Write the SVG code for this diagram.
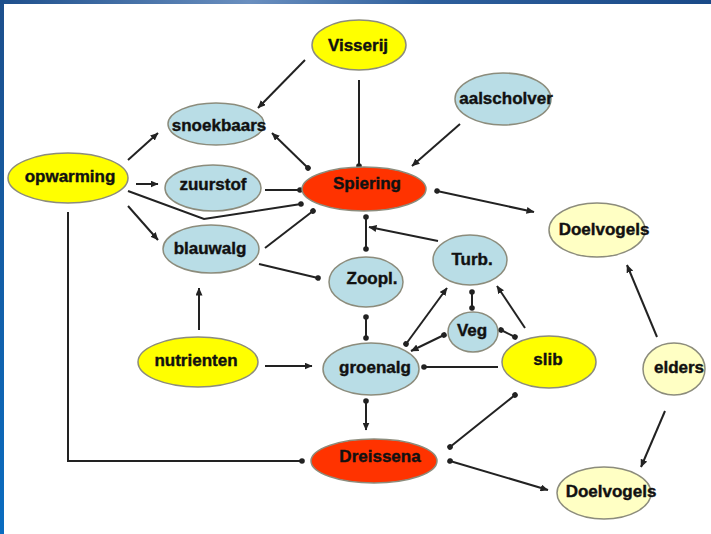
<svg xmlns="http://www.w3.org/2000/svg" width="711" height="534" viewBox="0 0 711 534">
<style>
.n ellipse{stroke:#8c8c7c;stroke-width:1.5}
.y{fill:#ffff00}
.b{fill:#b9dde6}
.r{fill:#ff3300}
.p{fill:#ffffc4}
text{font-family:"Liberation Sans",Arial,sans-serif;font-weight:bold;font-size:17px;fill:#111;stroke:#111;stroke-width:0.4;text-anchor:middle}
#connectors path{fill:none;stroke:#222;stroke-width:2}
</style>
<defs>
<linearGradient id="gt" x1="0" y1="0" x2="1" y2="0">
<stop offset="0" stop-color="#1d4f8c"/>
<stop offset="0.35" stop-color="#6a8fbf"/>
<stop offset="0.6" stop-color="#2e5f9c"/>
<stop offset="1" stop-color="#1a4a88"/>
</linearGradient>
<linearGradient id="gl" x1="0" y1="0" x2="0" y2="1">
<stop offset="0" stop-color="#1d4f8c"/>
<stop offset="1" stop-color="#0a6cc0"/>
</linearGradient>
<marker id="a" viewBox="0 0 8 7" refX="7.5" refY="3.5" markerWidth="8" markerHeight="7" markerUnits="userSpaceOnUse" orient="auto-start-reverse">
<path d="M0,0 L8,3.5 L0,7 z" fill="#222"/>
</marker>
<marker id="d" viewBox="0 0 6 6" refX="3" refY="3" markerWidth="6" markerHeight="6" markerUnits="userSpaceOnUse" orient="auto">
<circle cx="3" cy="3" r="2.8" fill="#222"/>
</marker>
</defs>
<rect x="0" y="0" width="711" height="534" fill="#ffffff"/>
<rect x="0" y="0" width="711" height="4" fill="url(#gt)"/>
<rect x="0" y="0" width="4" height="534" fill="url(#gl)"/>

<g id="connectors">
<path d="M305,60 L258,108" marker-end="url(#a)"/>
<path d="M359,80 L359,166" marker-end="url(#d)"/>
<path d="M460,124 L412,166" marker-end="url(#a)"/>
<path d="M272,133 L308,168" marker-start="url(#a)" marker-end="url(#d)"/>
<path d="M128,160 L158,133" marker-end="url(#a)"/>
<path d="M136,184 L158,184" marker-end="url(#a)"/>
<path d="M265,190 L300,190" marker-end="url(#d)"/>
<path d="M128,191 L204,219 L301,204" marker-end="url(#d)"/>
<path d="M128,206 L158,240" marker-end="url(#a)"/>
<path d="M265,248 L313,211" marker-end="url(#d)"/>
<path d="M259,264 L318,278" marker-end="url(#d)"/>
<path d="M199,330 L199,288" marker-end="url(#a)"/>
<path d="M265,366 L312,366" marker-end="url(#a)"/>
<path d="M366,217 L366,249" marker-start="url(#d)" marker-end="url(#d)"/>
<path d="M438,241 L369,227" marker-end="url(#a)"/>
<path d="M366,317 L366,338" marker-start="url(#d)" marker-end="url(#d)"/>
<path d="M406,344 L447,288" marker-start="url(#d)" marker-end="url(#a)"/>
<path d="M444,335 L411,351" marker-start="url(#d)" marker-end="url(#a)"/>
<path d="M472,292 L472,308" marker-start="url(#d)" marker-end="url(#d)"/>
<path d="M515,337 L501,330" marker-start="url(#d)" marker-end="url(#d)"/>
<path d="M525,328 L497,286" marker-end="url(#a)"/>
<path d="M498,367 L424,367" marker-end="url(#d)"/>
<path d="M366,401 L366,430" marker-start="url(#d)" marker-end="url(#a)"/>
<path d="M450,447 L515,395" marker-start="url(#d)" marker-end="url(#d)"/>
<path d="M450,461 L548,490" marker-start="url(#d)" marker-end="url(#a)"/>
<path d="M665,411 L641,467" marker-end="url(#a)"/>
<path d="M657,337 L627,265" marker-end="url(#a)"/>
<path d="M437,191 L534,212" marker-start="url(#d)" marker-end="url(#a)"/>
<path d="M68,212 L68,461 L302,461" marker-end="url(#d)"/>
</g>

<g id="visserij" class="n"><ellipse class="y" cx="359" cy="45" rx="47" ry="25"/><text x="358" y="51">Visserij</text></g>
<g id="snoekbaars" class="n"><ellipse class="b" cx="216" cy="124" rx="48" ry="21"/><text x="219" y="131">snoekbaars</text></g>
<g id="aalscholver" class="n"><ellipse class="b" cx="503" cy="99" rx="48" ry="26"/><text x="506" y="104">aalscholver</text></g>
<g id="opwarming" class="n"><ellipse class="y" cx="68" cy="178" rx="60" ry="25"/><text x="70" y="182">opwarming</text></g>
<g id="zuurstof" class="n"><ellipse class="b" cx="213" cy="188" rx="48" ry="23"/><text x="213" y="190">zuurstof</text></g>
<g id="blauwalg" class="n"><ellipse class="b" cx="211" cy="249" rx="48" ry="24"/><text x="210" y="254">blauwalg</text></g>
<g id="spiering" class="n"><ellipse class="r" cx="364" cy="189" rx="62" ry="22"/><text x="367" y="189">Spiering</text></g>
<g id="zoopl" class="n"><ellipse class="b" cx="366" cy="282" rx="37" ry="25"/><text x="372" y="284">Zoopl.</text></g>
<g id="turb" class="n"><ellipse class="b" cx="470" cy="260" rx="37" ry="25"/><text x="472" y="265">Turb.</text></g>
<g id="veg" class="n"><ellipse class="b" cx="473" cy="332" rx="25" ry="20"/><text x="472" y="336">Veg</text></g>
<g id="groenalg" class="n"><ellipse class="b" cx="371" cy="369" rx="48" ry="26"/><text x="375" y="373">groenalg</text></g>
<g id="nutrienten" class="n"><ellipse class="y" cx="198" cy="362" rx="60" ry="25"/><text x="196" y="366">nutrienten</text></g>
<g id="slib" class="n"><ellipse class="y" cx="549" cy="362" rx="47" ry="26"/><text x="548" y="365">slib</text></g>
<g id="doelvogels1" class="n"><ellipse class="p" cx="597" cy="230" rx="48" ry="27"/><text x="604" y="235">Doelvogels</text></g>
<g id="elders" class="n"><ellipse class="p" cx="674" cy="369" rx="31" ry="26"/><text x="679" y="373">elders</text></g>
<g id="dreissena" class="n"><ellipse class="r" cx="374" cy="461" rx="63" ry="22"/><text x="380" y="462">Dreissena</text></g>
<g id="doelvogels2" class="n"><ellipse class="p" cx="604" cy="493" rx="47" ry="26"/><text x="611" y="497">Doelvogels</text></g>
</svg>
